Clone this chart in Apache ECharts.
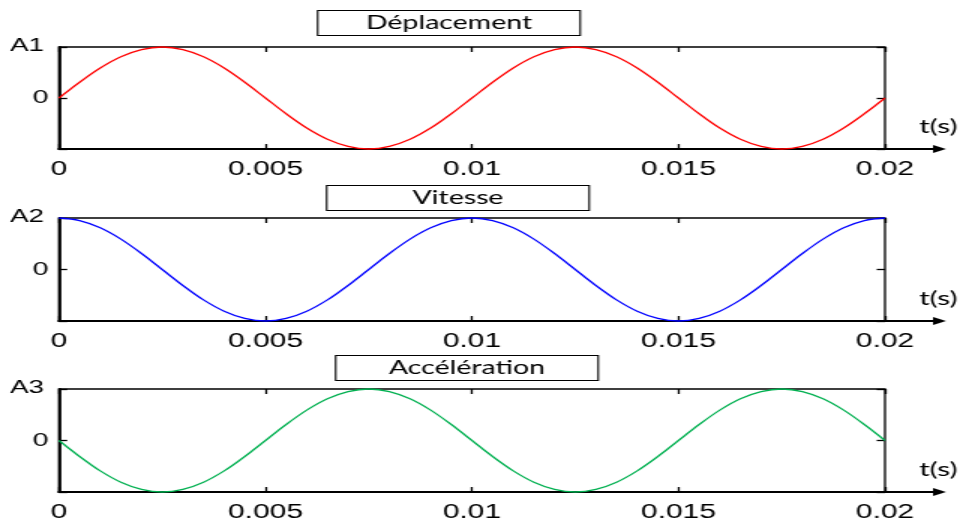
<!DOCTYPE html>
<html>
<head>
<meta charset="utf-8">
<script src="https://cdn.jsdelivr.net/npm/echarts@6/dist/echarts.min.js"></script>
<style>
  html, body { margin: 0; padding: 0; background: #fff; overflow: hidden; }
  /* the figure is laid out narrow and widened horizontally */
  #chart { width: 644px; height: 523px; transform: scaleX(1.5); transform-origin: 0 0; }
</style>
</head>
<body>
<div id="chart"></div>
<script>
// time samples (s)
const timeS = [0, 0.0005, 0.001, 0.0015, 0.002, 0.0025, 0.003, 0.0035, 0.004, 0.0045,
  0.005, 0.0055, 0.006, 0.0065, 0.007, 0.0075, 0.008, 0.0085, 0.009, 0.0095,
  0.01, 0.0105, 0.011, 0.0115, 0.012, 0.0125, 0.013, 0.0135, 0.014, 0.0145,
  0.015, 0.0155, 0.016, 0.0165, 0.017, 0.0175, 0.018, 0.0185, 0.019, 0.0195, 0.02];

// normalised amplitudes
const deplacement = [0, 0.31, 0.59, 0.81, 0.95, 1, 0.95, 0.81, 0.59, 0.31,
  0, -0.31, -0.59, -0.81, -0.95, -1, -0.95, -0.81, -0.59, -0.31,
  0, 0.31, 0.59, 0.81, 0.95, 1, 0.95, 0.81, 0.59, 0.31,
  0, -0.31, -0.59, -0.81, -0.95, -1, -0.95, -0.81, -0.59, -0.31, 0];
const vitesse = [1, 0.95, 0.81, 0.59, 0.31, 0, -0.31, -0.59, -0.81, -0.95,
  -1, -0.95, -0.81, -0.59, -0.31, 0, 0.31, 0.59, 0.81, 0.95,
  1, 0.95, 0.81, 0.59, 0.31, 0, -0.31, -0.59, -0.81, -0.95,
  -1, -0.95, -0.81, -0.59, -0.31, 0, 0.31, 0.59, 0.81, 0.95, 1];
const acceleration = [0, -0.31, -0.59, -0.81, -0.95, -1, -0.95, -0.81, -0.59, -0.31,
  0, 0.31, 0.59, 0.81, 0.95, 1, 0.95, 0.81, 0.59, 0.31,
  0, -0.31, -0.59, -0.81, -0.95, -1, -0.95, -0.81, -0.59, -0.31,
  0, 0.31, 0.59, 0.81, 0.95, 1, 0.95, 0.81, 0.59, 0.31, 0];

const panelTitles = ['Déplacement', 'Vitesse', 'Accélération'];
const amplitudeLabels = ['A1', 'A2', 'A3'];
const xTickLabels = ['0', '0.005', '0.01', '0.015', '0.02'];
const timeLabel = 't(s)';
const panelValues = [deplacement, vitesse, acceleration];
const panelColors = ['#ff0000', '#0000ff', '#00b050'];

// layout of the three panels
const gridTops = [47, 218, 389];
const gridHeights = [102, 103, 103];
const titleBoxes = [{ left: 211.3, top: 8 }, { left: 217.3, top: 183 }, { left: 223.3, top: 353 }];

const numFont = 'Liberation Sans';
const textFont = 'Lato';
const tickStyle = { show: true, inside: true, length: 5, lineStyle: { color: '#000', width: 1.3 } };

const grids = [], xAxes = [], yAxes = [], series = [], titles = [];

panelValues.forEach((vals, i) => {
  grids.push({
    left: 39.3, right: 54, top: gridTops[i], height: gridHeights[i],
    show: true, borderColor: '#000', borderWidth: 1.3, backgroundColor: 'transparent'
  });
  // bottom time axis
  xAxes.push({
    gridIndex: i, type: 'value', position: 'bottom', min: 0, max: 0.02, interval: 0.005,
    axisLine: { show: true, onZero: false, lineStyle: { color: '#000', width: 2.2 } },
    axisTick: tickStyle,
    axisLabel: {
      show: true, margin: 10, color: '#000', fontFamily: numFont, fontSize: 20,
      formatter: v => xTickLabels[Math.round(v / 0.005)] || ''
    },
    splitLine: { show: false }
  });
  // top frame ticks
  xAxes.push({
    gridIndex: i, type: 'value', position: 'top', min: 0, max: 0.02, interval: 0.005,
    axisLine: { show: false, onZero: false },
    axisTick: tickStyle,
    axisLabel: { show: false }, splitLine: { show: false }
  });
  // left amplitude axis
  yAxes.push({
    gridIndex: i, type: 'value', position: 'left', min: -1, max: 1, interval: 1,
    axisLine: { show: true, onZero: false, lineStyle: { color: '#000', width: 1.8 } },
    axisTick: { show: true, inside: true, length: 5.5, lineStyle: { color: '#000', width: 1.3 } },
    axisLabel: {
      show: true, margin: 7, color: '#000', fontFamily: numFont, fontSize: 19,
      formatter: v => v === 1 ? '{a|' + amplitudeLabels[i] + '}' : (v === 0 ? '0' : ''),
      rich: { a: { fontFamily: numFont, fontSize: 18.5, color: '#000', padding: [0, 3, 3, 0] } }
    },
    splitLine: { show: false }
  });
  // right frame tick
  yAxes.push({
    gridIndex: i, type: 'value', position: 'right', min: -1, max: 1, interval: 1,
    axisLine: { show: false, onZero: false },
    axisTick: { show: true, inside: true, length: 5.5, lineStyle: { color: '#000', width: 1.3 } },
    axisLabel: { show: false }, splitLine: { show: false }
  });
  series.push({
    type: 'line', xAxisIndex: 2 * i, yAxisIndex: 2 * i,
    data: timeS.map((t, k) => [t, vals[k]]),
    showSymbol: false, smooth: 0.35, clip: false,
    lineStyle: { color: panelColors[i], width: 1.3 },
    z: 3
  });
  titles.push({
    text: '{t|' + panelTitles[i] + '}',
    left: titleBoxes[i].left, top: titleBoxes[i].top,
    padding: [3, 3, 3, 3], borderColor: '#000', borderWidth: 1.1, backgroundColor: '#fff',
    textStyle: {
      fontWeight: 'normal',
      rich: { t: { width: 170, align: 'center', fontFamily: textFont, fontWeight: 'normal', fontSize: 19, lineHeight: 24, color: '#000' } }
    }
  });
});

const chart = echarts.init(document.getElementById('chart'), null, { renderer: 'canvas' });
chart.setOption({
  animation: false,
  backgroundColor: '#fff',
  title: titles,
  grid: grids,
  xAxis: xAxes,
  yAxis: yAxes,
  series: series
});

// arrow-headed extension of each time axis beyond the frame, with its unit label
const extras = [];
panelValues.forEach((_, i) => {
  const p = chart.convertToPixel({ gridIndex: i }, [0.02, -1]);
  const x0 = p[0], y0 = p[1];
  const tip = x0 + 40.7, base = tip - 8.7;
  extras.push({
    type: 'line', silent: true, z: 10,
    shape: { x1: x0, y1: y0, x2: base + 1, y2: y0 },
    style: { stroke: '#000', lineWidth: 2.2 }
  });
  extras.push({
    type: 'polygon', silent: true, z: 10,
    shape: { points: [[tip, y0], [base, y0 - 4], [base, y0 + 4]] },
    style: { fill: '#000' }
  });
  extras.push({
    type: 'text', silent: true, z: 10,
    x: x0 + 22.7, y: y0 - 22,
    style: {
      text: timeLabel, fill: '#000', fontFamily: textFont, fontSize: 20,
      align: 'left', verticalAlign: 'middle'
    }
  });
});
chart.setOption({ graphic: extras });
</script>
</body>
</html>
